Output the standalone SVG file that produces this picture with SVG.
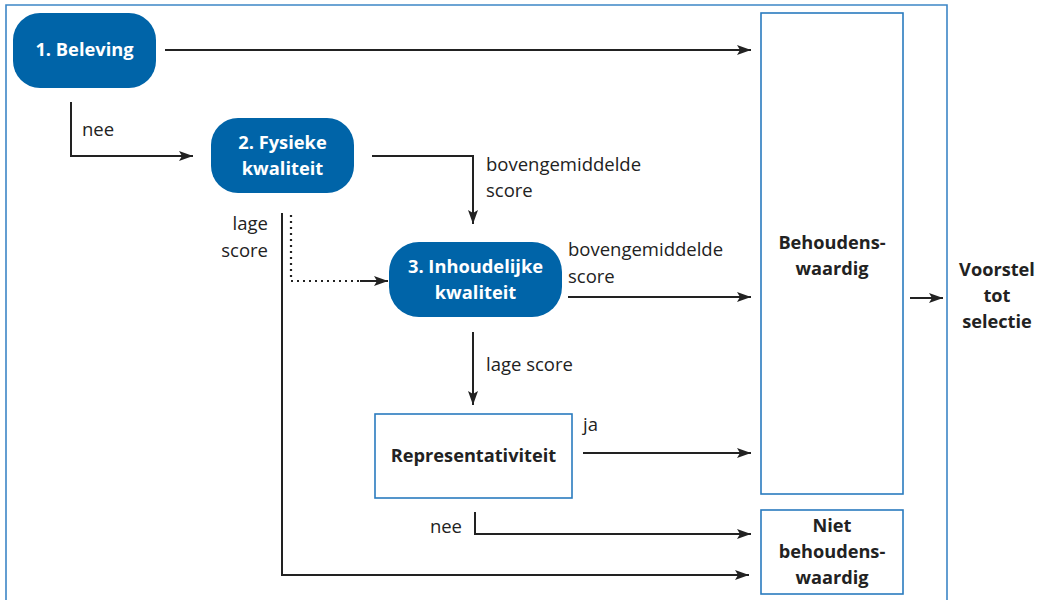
<svg xmlns="http://www.w3.org/2000/svg" width="1037" height="600" viewBox="0 0 1037 600">
<style>
.frame{fill:none;stroke:#3d86c6;stroke-width:1.6}
.box{fill:#fff;stroke:#2a7bbf;stroke-width:1.6}
.pill{fill:#0064a8}
.pt{font-family:"Open Sans","Noto Sans",sans-serif;font-weight:bold;font-size:18.3px;fill:#fff;text-anchor:middle}
.bt{font-family:"Open Sans","Noto Sans",sans-serif;font-weight:bold;font-size:18.2px;fill:#222;text-anchor:middle}
.lb{font-family:"Open Sans","Noto Sans",sans-serif;font-size:18.5px;fill:#222}
.c{fill:none;stroke:#222;stroke-width:2}
.d{fill:none;stroke:#222;stroke-width:2.2;stroke-dasharray:2 4}
</style>
<defs>
<marker id="ah" viewBox="0 0 14 10" refX="14" refY="5" markerWidth="14" markerHeight="10" markerUnits="userSpaceOnUse" orient="auto">
<path d="M0,0 L14,5 L0,10 L3,5 Z" fill="#222"/>
</marker>
</defs>
<rect width="1037" height="600" fill="#fff"/>
<path class="frame" d="M6,605 V5 H947 V605"/>
<g id="n1"><rect class="pill" x="13" y="13" width="143" height="75" rx="27"/><text class="pt" x="84.5" y="56">1. Beleving</text></g>
<g id="n2"><rect class="pill" x="211" y="118" width="143" height="75" rx="27"/><text class="pt" x="282.5" y="149">2. Fysieke</text><text class="pt" x="282.5" y="175">kwaliteit</text></g>
<g id="n3"><rect class="pill" x="389" y="242" width="173" height="75" rx="30"/><text class="pt" x="475.5" y="273">3. Inhoudelijke</text><text class="pt" x="475.5" y="299">kwaliteit</text></g>
<g id="rep"><rect class="box" x="375" y="414" width="197" height="84"/><text class="bt" x="473.5" y="462">Representativiteit</text></g>
<g id="beh"><rect class="box" x="761" y="13" width="142" height="481"/><text class="bt" x="832" y="249">Behoudens-</text><text class="bt" x="832" y="275">waardig</text></g>
<g id="niet"><rect class="box" x="761" y="510" width="142" height="84"/><text class="bt" x="832" y="532">Niet</text><text class="bt" x="832" y="558">behoudens-</text><text class="bt" x="832" y="584">waardig</text></g>
<g id="voorstel"><text class="bt" x="997" y="276">Voorstel</text><text class="bt" x="997" y="302">tot</text><text class="bt" x="997" y="328">selectie</text></g>
<g id="connectors">
<path class="c" d="M165,50 H751" marker-end="url(#ah)"/>
<path class="c" d="M71,102 V156 H193" marker-end="url(#ah)"/>
<path class="c" d="M372,156 H473 V224" marker-end="url(#ah)"/>
<path class="c" d="M282,213 V575 H749" marker-end="url(#ah)"/>
<path class="d" d="M291,215 V281 H376"/>
<path class="c" d="M360,281 H388" marker-end="url(#ah)" stroke-dasharray="0"/>
<path class="c" d="M568,297 H751" marker-end="url(#ah)"/>
<path class="c" d="M473,332 V405" marker-end="url(#ah)"/>
<path class="c" d="M583,453 H751" marker-end="url(#ah)"/>
<path class="c" d="M475,512 V534 H751" marker-end="url(#ah)"/>
<path class="c" d="M910,298 H943" marker-end="url(#ah)"/>
</g>
<g id="labels">
<text class="lb" x="82" y="136">nee</text>
<text class="lb" x="486" y="171">bovengemiddelde</text>
<text class="lb" x="486" y="197">score</text>
<text class="lb" x="268" y="230" text-anchor="end">lage</text>
<text class="lb" x="268" y="257" text-anchor="end">score</text>
<text class="lb" x="568" y="256">bovengemiddelde</text>
<text class="lb" x="568" y="283">score</text>
<text class="lb" x="486" y="371">lage score</text>
<text class="lb" x="583" y="431">ja</text>
<text class="lb" x="462" y="533" text-anchor="end">nee</text>
</g>
</svg>
